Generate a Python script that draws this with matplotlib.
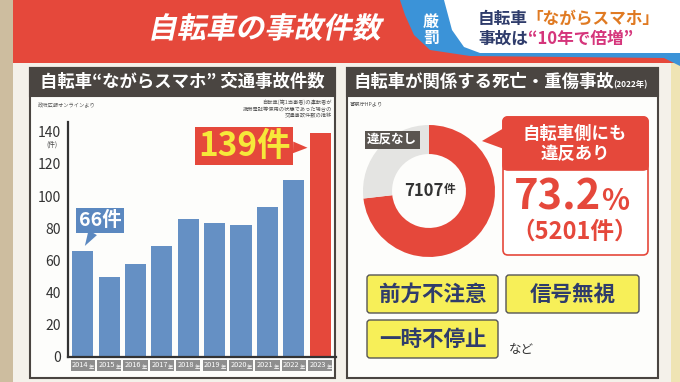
import numpy as np
import matplotlib.pyplot as plt
from matplotlib.patches import Rectangle, FancyBboxPatch, Polygon
from matplotlib.patheffects import AbstractPathEffect
from matplotlib.transforms import Affine2D

plt.rcParams['font.family'] = ['Noto Sans CJK JP', 'DejaVu Sans']

# data
years = ['2014', '2015', '2016', '2017', '2018', '2019', '2020', '2021', '2022', '2023']
counts = [66, 50, 58, 69, 86, 83, 82, 93, 110, 139]
y_ticks = [0, 20, 40, 60, 80, 100, 120, 140]

pie_names = ['違反あり', '違反なし']
pie_counts = [5201, 1906]
pie_total = 7107
share_pct = 73.2
factors = ['前方不注意', '信号無視', '一時不停止']

RED = '#e5483b'
BLUE = '#6590c4'
DARK = '#4a4541'
NAVY = '#2f3c6b'
YELLOW = '#f7ef58'


class Slant(AbstractPathEffect):
    # lean text to the right (fake italic)
    def __init__(self, deg=12):
        super().__init__()
        self.deg = deg

    def draw_path(self, renderer, gc, tpath, affine, rgbFace=None):
        ox, oy = affine.get_matrix()[0, 2], affine.get_matrix()[1, 2]
        sk = Affine2D().translate(-ox, -oy).skew_deg(self.deg, 0).translate(ox, oy)
        renderer.draw_path(gc, tpath, affine + sk, rgbFace)


fig = plt.figure(figsize=(6.8, 3.82), dpi=100)

# background layer in pixel coords
bg = fig.add_axes([0, 0, 1, 1], zorder=0)
bg.set_xlim(0, 680)
bg.set_ylim(382, 0)
bg.axis('off')

bg.add_patch(Rectangle((0, 0), 680, 382, fc='#cdbd9f', ec='none'))
bg.add_patch(Rectangle((668, 60), 12, 322, fc='#efe4b4', ec='none'))
bg.add_patch(Rectangle((13, 60), 658, 322, fc='#f4f1ea', ec='none'))

# top banner
bg.add_patch(Rectangle((13, 0), 667, 63, fc=RED, ec='none'))
bg.add_patch(Polygon([(400, 0), (680, 0), (680, 66), (664, 58), (470, 56),
                      (430, 50), (414, 35), (405, 15)], fc='#3b93d8', ec='none'))
bg.add_patch(Polygon([(444, 0), (680, 0), (680, 53), (480, 53), (464, 47),
                      (452, 30)], fc='white', ec='none'))
bg.text(264, 29, '自転車の事故件数', color='white', fontsize=21, fontweight='bold',
        ha='center', va='center', path_effects=[Slant(12)])
bg.text(431, 30, '厳\n罰', color='white', fontsize=11.5, fontweight='bold',
        ha='center', va='center', linespacing=1.05)
t1 = bg.text(478, 19, '自転車', color=NAVY, fontsize=12, fontweight='bold',
             ha='left', va='center')
bg.annotate('「ながらスマホ」', xy=(0.97, 0.5), xycoords=t1, color='#e07a22',
            fontsize=12, fontweight='bold', ha='left', va='center')
t2 = bg.text(478, 39, '事故は', color=NAVY, fontsize=12, fontweight='bold',
             ha='left', va='center')
bg.annotate('“10年で倍増”', xy=(1, 0.5), xycoords=t2, color='#d5357b',
            fontsize=12, fontweight='bold', ha='left', va='center')

# panels
for x0, x1 in [(30, 335), (347, 658)]:
    bg.add_patch(Rectangle((x0, 68), x1 - x0, 310, fc='#fdfdfb', ec=DARK, lw=1.5))
    bg.add_patch(Rectangle((x0, 68), x1 - x0, 28, fc=DARK, ec=DARK, lw=1.5))

bg.text(182, 82, '自転車“ながらスマホ” 交通事故件数', color='white', fontsize=12.5,
        fontweight='bold', ha='center', va='center')
bg.text(38, 106, '政府広報オンラインより', color='#555555', fontsize=3.8,
        ha='left', va='center')
bg.text(332, 109, '自転車(第1当事者)の運転者が\n携帯電話等使用の状態であった場合の\n交通事故件数の推移',
        color='#555555', fontsize=3.8, ha='right', va='center', multialignment='right',
        linespacing=1.3)
bg.text(52, 145, '(件)', color='#444444', fontsize=4.8, ha='center', va='center')

t3 = bg.text(353, 82, '自転車が関係する死亡・重傷事故', color='white', fontsize=12.5,
             fontweight='bold', ha='left', va='center')
bg.annotate('(2022年)', xy=(1, 0.35), xycoords=t3, color='white', fontsize=6,
            fontweight='bold', ha='left', va='center')
bg.text(350, 104, '警察庁HPより', color='#555555', fontsize=3.8, ha='left', va='center')

# bar chart
ax = fig.add_axes([67.7 / 680, 25 / 382, (336 - 67.7) / 680, (357 - 122) / 382], zorder=2)
ax.patch.set_visible(False)
x = np.arange(len(years))
bar_colors = [BLUE] * (len(years) - 1) + [RED]
ax.bar(x, counts, width=0.8, color=bar_colors)
ax.set_xlim(-0.57, 9.6)
ax.set_ylim(0, 146)
ax.set_yticks(y_ticks)
ax.tick_params(axis='y', length=0, labelsize=10, labelcolor='#333333', pad=5)
ax.tick_params(axis='x', length=0, labelbottom=False)
for s in ['top', 'right']:
    ax.spines[s].set_visible(False)
for s in ['left', 'bottom']:
    ax.spines[s].set_color('#333333')
    ax.spines[s].set_linewidth(1.6)

# year labels in grey boxes
xtr = ax.get_xaxis_transform()
for i, yr in enumerate(years):
    ax.add_patch(Rectangle((i - 0.46, -0.058), 0.92, 0.044, transform=xtr,
                           fc='#8e8e8e', ec='none', clip_on=False))
    ty = ax.text(i + 0.22, -0.036, yr, transform=xtr, ha='right', va='center',
                 fontsize=5.3, color='white')
    ax.annotate('年', xy=(1.02, 0.3), xycoords=ty, ha='left', va='center',
                fontsize=3.8, color='white')

ax.annotate(f'{counts[0]}件', xy=(0.08, counts[0] + 3), xytext=(0.66, 85),
            ha='center', va='center', fontsize=14, fontweight='bold', color='white',
            bbox=dict(boxstyle='square,pad=0.15', fc='#5b88c0', ec='none'),
            arrowprops=dict(arrowstyle='wedge,tail_width=0.5', fc='#5b88c0', ec='none',
                            shrinkA=0, shrinkB=0))
ax.annotate(f'{counts[-1]}件', xy=(8.52, 130), xytext=(6.12, 131),
            ha='center', va='center', fontsize=24, fontweight='bold', color='#f6e83a',
            bbox=dict(boxstyle='square,pad=0.08', fc=RED, ec='none'),
            arrowprops=dict(arrowstyle='wedge,tail_width=0.35', fc=RED, ec='none',
                            shrinkA=0, shrinkB=0))

# donut
cx, cy, r = 429, 191, 66
ax2 = fig.add_axes([(cx - r) / 680, (382 - cy - r) / 382, 2 * r / 680, 2 * r / 382], zorder=2)
ax2.pie(pie_counts, colors=[RED, '#e4e4e2'], startangle=90, counterclock=False,
        radius=1, wedgeprops=dict(width=0.44, edgecolor='none'))
ax2.set_xlim(-1, 1)
ax2.set_ylim(-1, 1)
ax2.set_aspect('equal')
ax2.axis('off')
t4 = ax2.text(0.22, 0, f'{pie_total}', ha='right', va='center', fontsize=12,
              fontweight='bold', color='#333333')
ax2.annotate('件', xy=(1, 0.2), xycoords=t4, ha='left', va='bottom', fontsize=8.5,
             fontweight='bold', color='#333333')
ax2.text((392 - cx) / r, (cy - 139.5) / r, pie_names[1], color='white', fontsize=9,
         fontweight='bold', ha='center', va='center', clip_on=False,
         bbox=dict(boxstyle='square,pad=0.2', fc='#5a5550', ec='none'))

# callout
bg.add_patch(FancyBboxPatch((503, 117), 145, 138, boxstyle='round,pad=0,rounding_size=5',
                            fc='white', ec=RED, lw=1.2))
bg.add_patch(FancyBboxPatch((503, 117), 145, 53, boxstyle='round,pad=0,rounding_size=5',
                            fc=RED, ec=RED, lw=1.2))
bg.add_patch(Rectangle((503, 160), 145, 10, fc=RED, ec='none'))
bg.add_patch(Polygon([(504, 128), (504, 149), (482, 141)], fc=RED, ec='none'))
bg.text(575, 144, '自転車側にも\n違反あり', color='white', fontsize=12.5, fontweight='bold',
        ha='center', va='center', linespacing=1.15)
t5 = bg.text(514, 197, f'{share_pct}', color=RED, fontsize=30, fontweight='bold',
             ha='left', va='center')
bg.annotate('%', xy=(1, 0.4), xycoords=t5, color=RED, fontsize=21, fontweight='bold',
            ha='left', va='center')
bg.text(575, 232, f'（{pie_counts[0]}件）', color=RED, fontsize=17, fontweight='bold',
        ha='center', va='center')

# factor boxes
boxes = [(367, 275, 131, 38), (506, 275, 133, 38), (367, 320, 131, 38)]
for (bx, by, bw, bh), name in zip(boxes, factors):
    bg.add_patch(FancyBboxPatch((bx, by), bw, bh, boxstyle='round,pad=0,rounding_size=3',
                                fc=YELLOW, ec='#555555', lw=1))
    bg.text(bx + bw / 2, by + bh / 2, name, color=NAVY, fontsize=15.5, fontweight='bold',
            ha='center', va='center')
bg.text(509, 350, 'など', color='#333333', fontsize=9, ha='left', va='center')

fig.savefig('out.png', dpi=100)
